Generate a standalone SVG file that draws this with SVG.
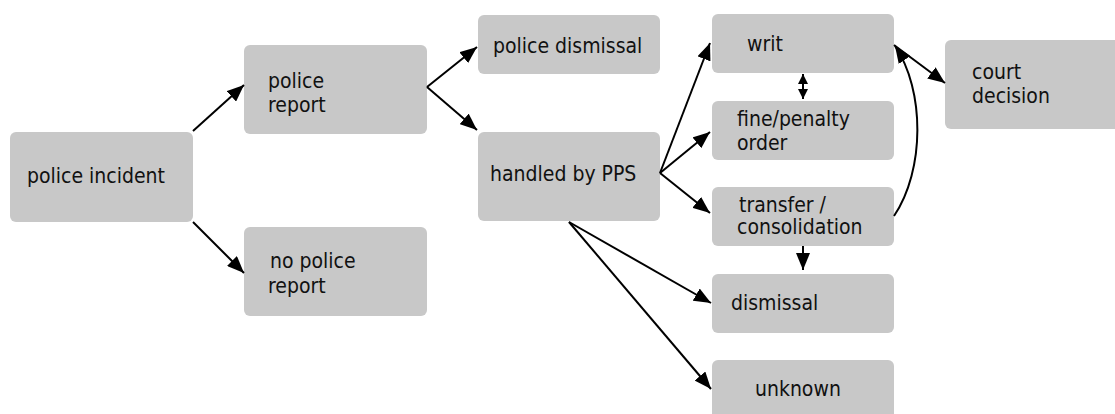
<svg xmlns="http://www.w3.org/2000/svg" width="1115" height="414" viewBox="0 0 1115 414">
<style>
.box{fill:#c8c8c8;}
.t{font-family:"DejaVu Sans Condensed","DejaVu Sans",sans-serif;font-stretch:condensed;font-size:21px;fill:#111;}
.c{stroke:#000;stroke-width:2;fill:none;marker-end:url(#ah);}
.s{stroke:#000;stroke-width:2;fill:none;marker-end:url(#sh);marker-start:url(#sh);}
</style>
<defs>
<marker id="ah" markerUnits="userSpaceOnUse" markerWidth="17" markerHeight="14" refX="17" refY="7" orient="auto"><path d="M0,0 L17,7 L0,14 z" fill="#000"/></marker>
<marker id="sh" markerUnits="userSpaceOnUse" markerWidth="10" markerHeight="10" refX="10" refY="5" orient="auto-start-reverse"><path d="M0,0 L10,5 L0,10 z" fill="#000"/></marker>
</defs>
<rect width="1115" height="414" fill="#fff"/>
<g id="n-incident"><rect class="box" x="10" y="132" width="183" height="90" rx="6"/><text class="t" x="27" y="183">police incident</text></g>
<g id="n-report"><rect class="box" x="244" y="45" width="183" height="89" rx="6"/><text class="t" x="268" y="88">police</text><text class="t" x="268" y="112">report</text></g>
<g id="n-noreport"><rect class="box" x="244" y="227" width="183" height="89" rx="6"/><text class="t" x="270" y="268">no police</text><text class="t" x="268" y="293">report</text></g>
<g id="n-poldis"><rect class="box" x="478" y="15" width="182" height="59" rx="6"/><text class="t" x="493" y="53">police dismissal</text></g>
<g id="n-pps"><rect class="box" x="478" y="132" width="182" height="89" rx="6"/><text class="t" x="490" y="181">handled by PPS</text></g>
<g id="n-writ"><rect class="box" x="712" y="14" width="182" height="59" rx="6"/><text class="t" x="747" y="51">writ</text></g>
<g id="n-fine"><rect class="box" x="712" y="101" width="182" height="59" rx="6"/><text class="t" x="737" y="126">fine/penalty</text><text class="t" x="737" y="150">order</text></g>
<g id="n-transfer"><rect class="box" x="712" y="187" width="182" height="59" rx="6"/><text class="t" x="739" y="212">transfer /</text><text class="t" x="737" y="234">consolidation</text></g>
<g id="n-dismissal"><rect class="box" x="712" y="274" width="182" height="59" rx="6"/><text class="t" x="731" y="310">dismissal</text></g>
<g id="n-unknown"><rect class="box" x="712" y="360" width="182" height="59" rx="6"/><text class="t" x="755" y="396">unknown</text></g>
<g id="n-court"><rect class="box" x="945" y="40" width="182" height="89" rx="6"/><text class="t" x="972" y="79">court</text><text class="t" x="972" y="103">decision</text></g>
<g id="connectors">
<line class="c" x1="193" y1="131" x2="244" y2="85"/>
<line class="c" x1="193" y1="222" x2="244" y2="273"/>
<line class="c" x1="427" y1="87" x2="477" y2="47"/>
<line class="c" x1="427" y1="87" x2="477" y2="130"/>
<line class="c" x1="660" y1="173" x2="710" y2="43"/>
<line class="c" x1="660" y1="173" x2="710" y2="132"/>
<line class="c" x1="660" y1="173" x2="710" y2="213"/>
<line class="c" x1="569" y1="222" x2="711" y2="303"/>
<line class="c" x1="569" y1="222" x2="711" y2="389"/>
<line class="c" x1="894" y1="45" x2="945" y2="83"/>
<line class="c" x1="803" y1="246" x2="803" y2="270"/>
<line class="s" x1="803" y1="74" x2="803" y2="99"/>
<path class="c" d="M894,216 C925,170 925,90 895,46"/>
</g>
</svg>
